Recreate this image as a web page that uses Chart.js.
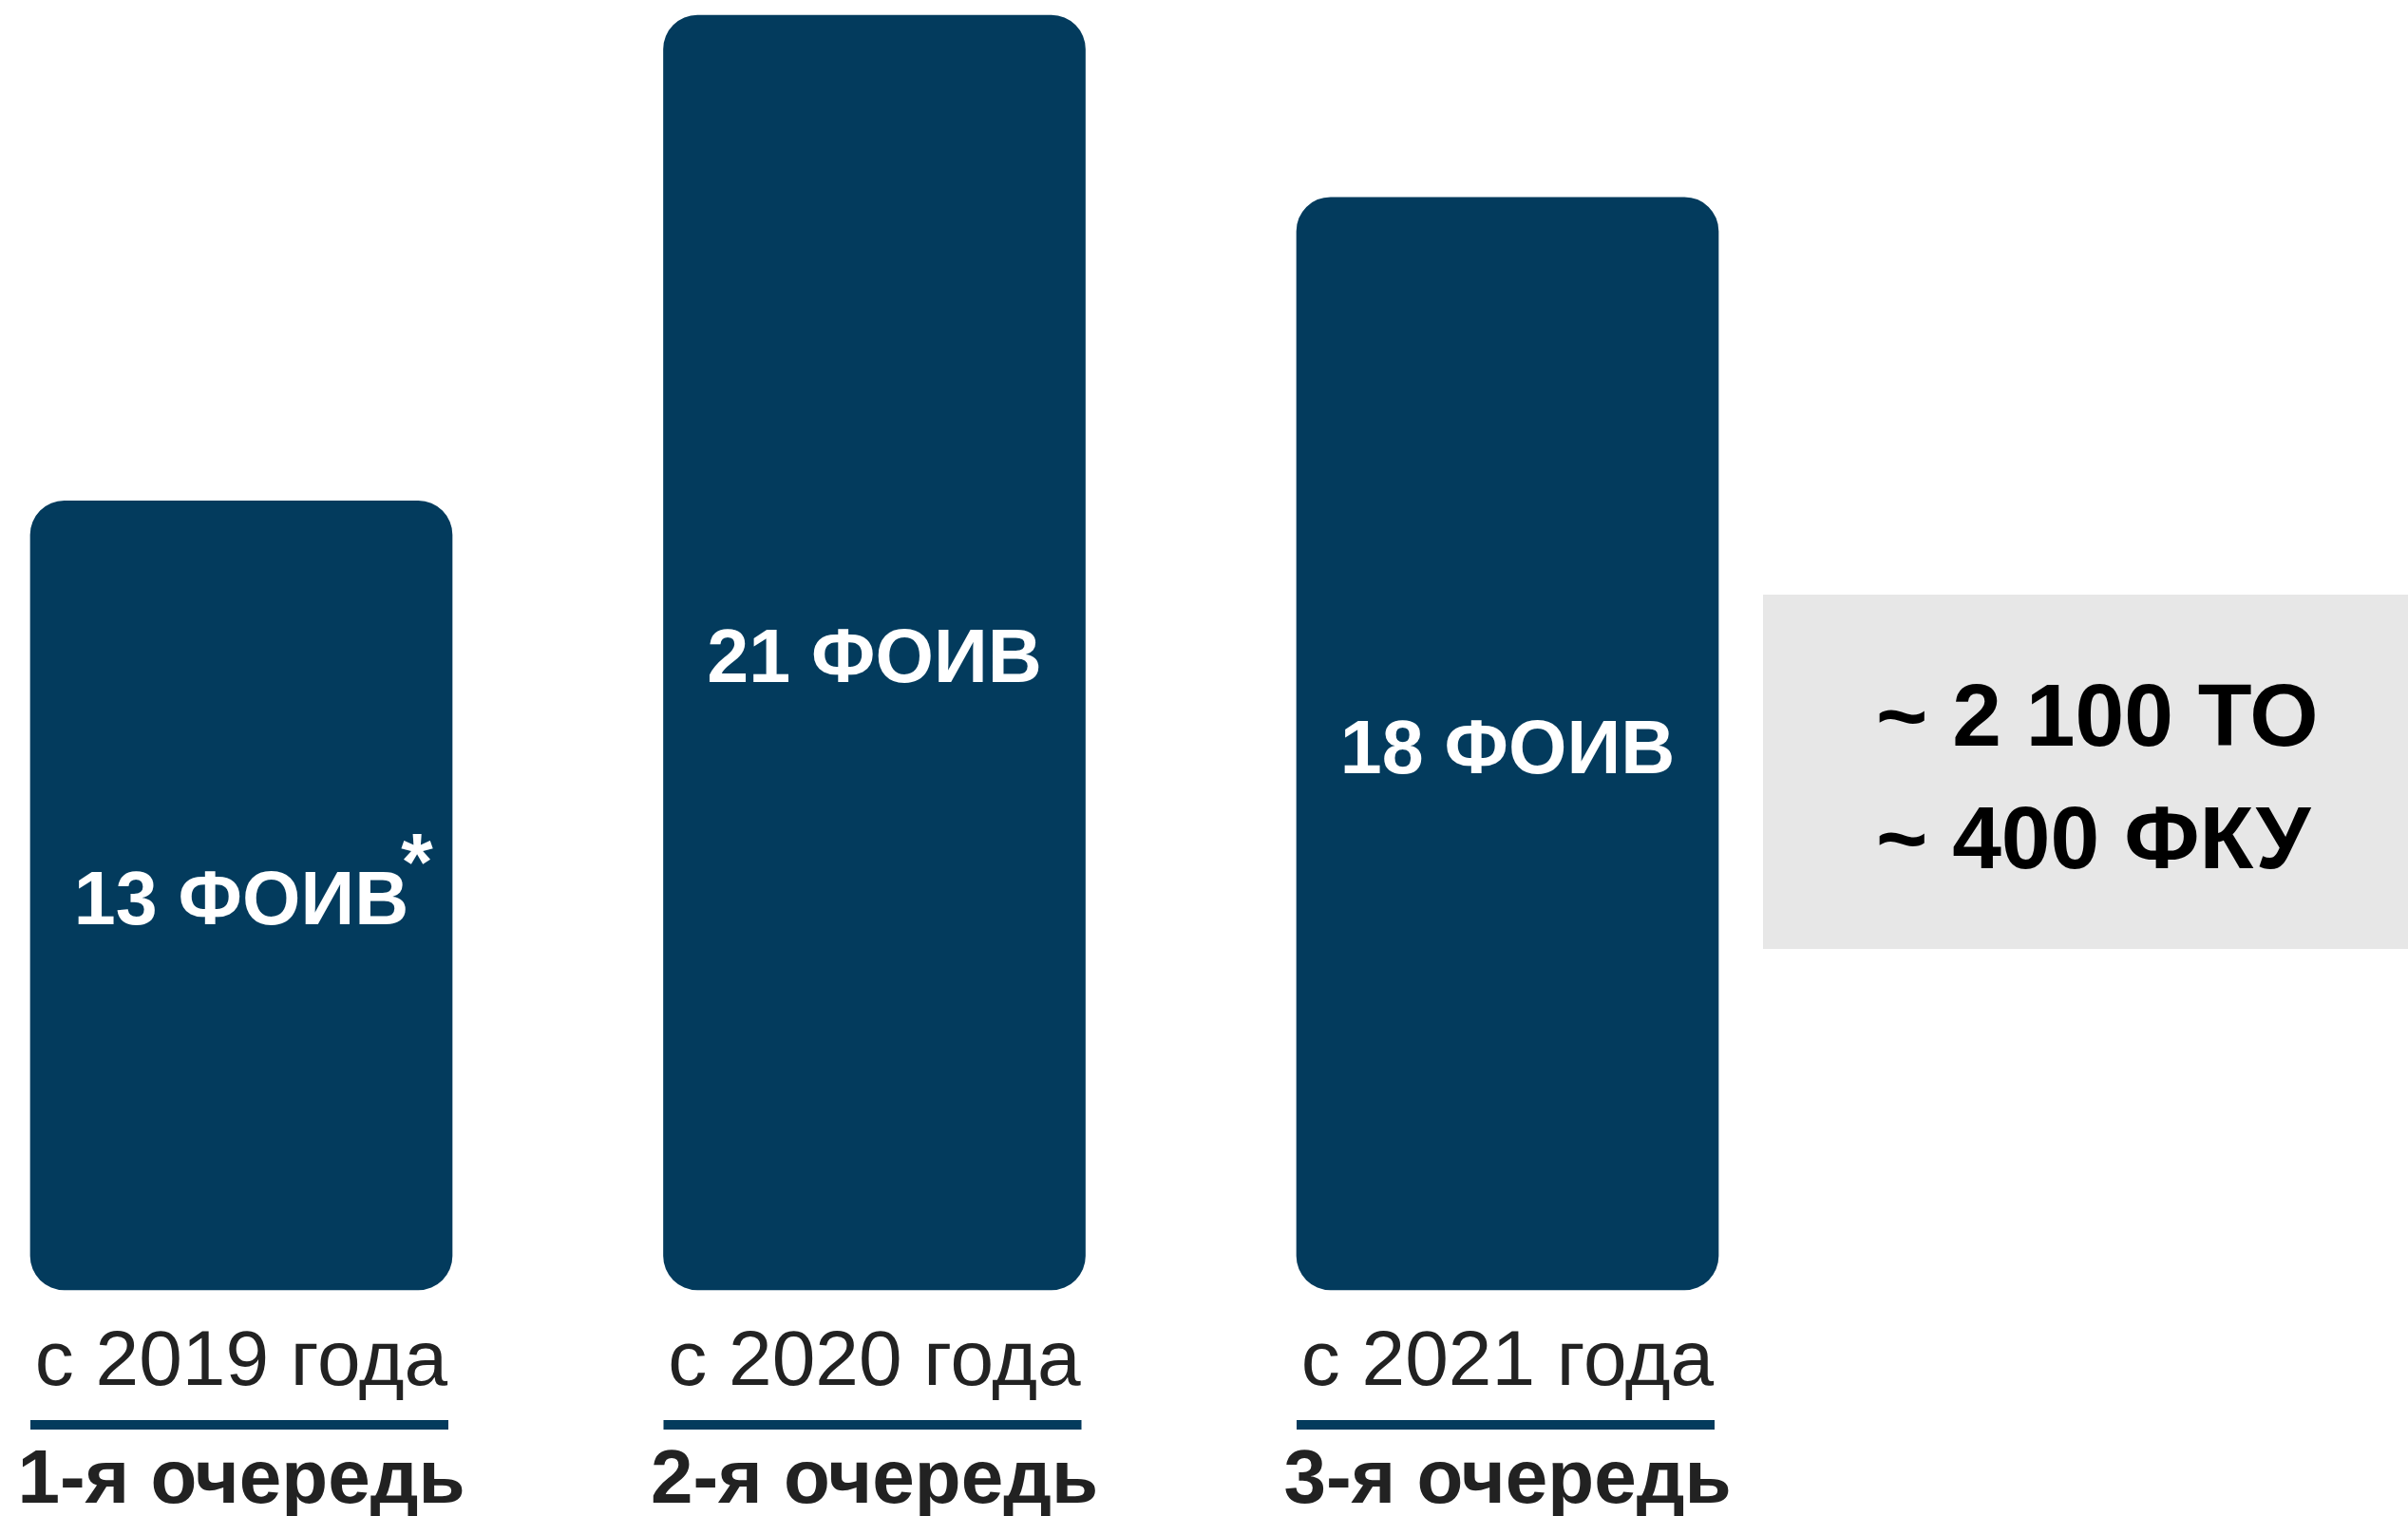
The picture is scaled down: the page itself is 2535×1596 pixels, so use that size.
<!DOCTYPE html>
<html>
<head>
<meta charset="utf-8">
<script src="https://cdn.jsdelivr.net/npm/chart.js@4/dist/chart.umd.min.js"></script>
<style>
  html, body { margin: 0; padding: 0; background: #ffffff; }
  #chartQueues { display: block; }
</style>
</head>
<body>
<canvas id="chartQueues" width="2535" height="1596"></canvas>
<script>
const categories = ['1-я очередь', '2-я очередь', '3-я очередь'];
const startYears = ['с 2019 года', 'с 2020 года', 'с 2021 года'];
const foivCounts = [13, 21, 18];
const footnoteMarks = ['*', '', ''];
const summaryLines = ['~ 2 100 ТО', '~ 400 ФКУ'];

const navy = '#033b5d';
const fontFamily = "'Liberation Sans', Arial, Helvetica, sans-serif";

const chartQueues = document.getElementById('chartQueues');

// подписи внутри столбцов, годы, линии, очереди и серый блок справа
const labelsPlugin = {
    id: 'queueLabels',
    afterDatasetsDraw(chart) {
        const ctx = chart.ctx;
        const bars = chart.getDatasetMeta(0).data;

        ctx.save();
        bars.forEach((bar, i) => {
            const left = bar.x - bar.width / 2;
            const right = bar.x + bar.width / 2;
            const middle = (bar.y + bar.base) / 2;

            // число ФОИВ
            const text = foivCounts[i] + ' ФОИВ';
            ctx.font = 'bold 79px ' + fontFamily;
            ctx.fillStyle = '#ffffff';
            ctx.textAlign = 'center';
            ctx.textBaseline = 'middle';
            ctx.fillText(text, bar.x, middle + 9);

            if (footnoteMarks[i]) {
                const w = ctx.measureText(text).width;
                ctx.font = 'bold 86px ' + fontFamily;
                ctx.textAlign = 'left';
                ctx.textBaseline = 'alphabetic';
                ctx.fillText(footnoteMarks[i], bar.x + w / 2 - 8, middle - 6);
            }

            // год
            ctx.font = '82px ' + fontFamily;
            ctx.fillStyle = '#222222';
            ctx.textAlign = 'center';
            ctx.textBaseline = 'alphabetic';
            ctx.fillText(startYears[i], bar.x, 1458);

            // линия
            ctx.fillStyle = navy;
            ctx.fillRect(left, 1495, right - left - 4, 10);

            // очередь
            ctx.font = 'bold 80px ' + fontFamily;
            ctx.fillStyle = '#222222';
            ctx.fillText(categories[i], bar.x, 1582);
        });

        // серый блок
        ctx.fillStyle = '#e7e7e7';
        ctx.fillRect(1856, 626, 2535 - 1856, 373);
        ctx.font = 'bold 93px ' + fontFamily;
        ctx.fillStyle = '#000000';
        ctx.textAlign = 'left';
        ctx.fillText(summaryLines[0], 1975, 785);
        ctx.fillText(summaryLines[1], 1975, 914);
        ctx.restore();
    }
};

let chart = new Chart(chartQueues, {
    type: 'bar',
    data: {
        labels: categories,
        datasets: [
            {
                label: 'ФОИВ',
                data: foivCounts,
                backgroundColor: navy,
                borderWidth: 0,
                borderRadius: 36,
                borderSkipped: false,
                barThickness: 444,
                clip: false
            }
        ]
    },
    options: {
        responsive: false,
        devicePixelRatio: 1,
        animation: false,
        layout: {
            padding: { left: 254, right: 948, top: 16, bottom: 238 }
        },
        plugins: {
            legend: { display: false },
            tooltip: { enabled: false }
        },
        scales: {
            x: {
                display: false,
                offset: false,
                grid: { display: false }
            },
            y: {
                display: false,
                min: 0,
                max: 21,
                grid: { display: false }
            }
        }
    },
    plugins: [labelsPlugin]
});
</script>
</body>
</html>
